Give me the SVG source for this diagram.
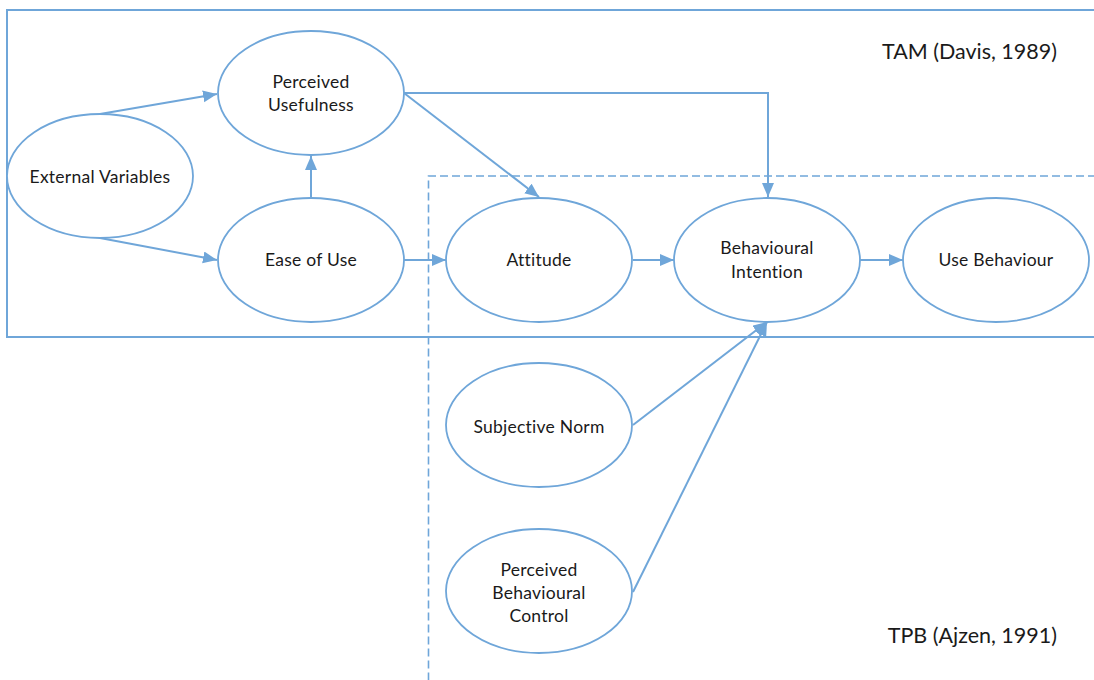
<svg xmlns="http://www.w3.org/2000/svg" width="1094" height="680" viewBox="0 0 1094 680">
  <style>
    .frame { fill: none; stroke: #6fa6d9; stroke-width: 2; }
    .dashed { fill: none; stroke: #6fa6d9; stroke-width: 1.6; stroke-dasharray: 8 4; }
    .node ellipse { fill: #ffffff; stroke: #6fa6d9; stroke-width: 1.8; }
    .node text { font-family: Lato, "Liberation Sans", sans-serif; font-size: 17.5px; letter-spacing: 0.25px; fill: #1a1a1a; text-anchor: middle; }
    .title { font-family: Lato, "Liberation Sans", sans-serif; font-size: 21.5px; fill: #1a1a1a; text-anchor: end; }
    .edge { fill: none; stroke: #6fa6d9; stroke-width: 2; marker-end: url(#arrow); }
  </style>
  <defs>
    <marker id="arrow" markerUnits="userSpaceOnUse" markerWidth="15" markerHeight="13" refX="14" refY="6" orient="auto">
      <path d="M0,0 L14,6 L0,12 z" fill="#6fa6d9"/>
    </marker>
  </defs>

  <rect width="1094" height="680" fill="#ffffff"/>

  <!-- model boundaries -->
  <g id="tam-frame">
    <path class="frame" d="M1096,10 H7 V337 H1096"/>
    <text class="title" x="1057" y="59">TAM (Davis, 1989)</text>
  </g>
  <g id="tpb-frame">
    <path class="dashed" d="M1096,176 H428.5 V682"/>
    <text class="title" x="1057" y="643">TPB (Ajzen, 1991)</text>
  </g>

  <!-- connectors -->
  <g id="connectors">
    <path class="edge" d="M100,114 L217,94"/>
    <path class="edge" d="M100,238 L217,260"/>
    <path class="edge" d="M311,197 L311,156"/>
    <path class="edge" d="M404,93 H768 V197"/>
    <path class="edge" d="M404,93 L539,197"/>
    <path class="edge" d="M404,260 H446"/>
    <path class="edge" d="M633,260 H674"/>
    <path class="edge" d="M860,260 H903"/>
    <path class="edge" d="M633,425 L767,322"/>
    <path class="edge" d="M633,592 L767,322"/>
  </g>

  <!-- nodes -->
  <g id="external-variables" class="node">
    <ellipse cx="100" cy="176" rx="93" ry="62"/>
    <text x="100" y="183">External Variables</text>
  </g>
  <g id="perceived-usefulness" class="node">
    <ellipse cx="311" cy="93" rx="93" ry="62"/>
    <text x="311" y="88">Perceived</text>
    <text x="311" y="111">Usefulness</text>
  </g>
  <g id="ease-of-use" class="node">
    <ellipse cx="311" cy="260" rx="93" ry="62"/>
    <text x="311" y="266">Ease of Use</text>
  </g>
  <g id="attitude" class="node">
    <ellipse cx="539" cy="260" rx="93" ry="62"/>
    <text x="539" y="266">Attitude</text>
  </g>
  <g id="behavioural-intention" class="node">
    <ellipse cx="767" cy="260" rx="93" ry="62"/>
    <text x="767" y="254">Behavioural</text>
    <text x="767" y="278">Intention</text>
  </g>
  <g id="use-behaviour" class="node">
    <ellipse cx="996" cy="260" rx="93" ry="62"/>
    <text x="996" y="266">Use Behaviour</text>
  </g>
  <g id="subjective-norm" class="node">
    <ellipse cx="539" cy="425" rx="93" ry="62"/>
    <text x="539" y="433">Subjective Norm</text>
  </g>
  <g id="perceived-behavioural-control" class="node">
    <ellipse cx="539" cy="591" rx="93" ry="62"/>
    <text x="539" y="576">Perceived</text>
    <text x="539" y="599">Behavioural</text>
    <text x="539" y="622">Control</text>
  </g>
</svg>
